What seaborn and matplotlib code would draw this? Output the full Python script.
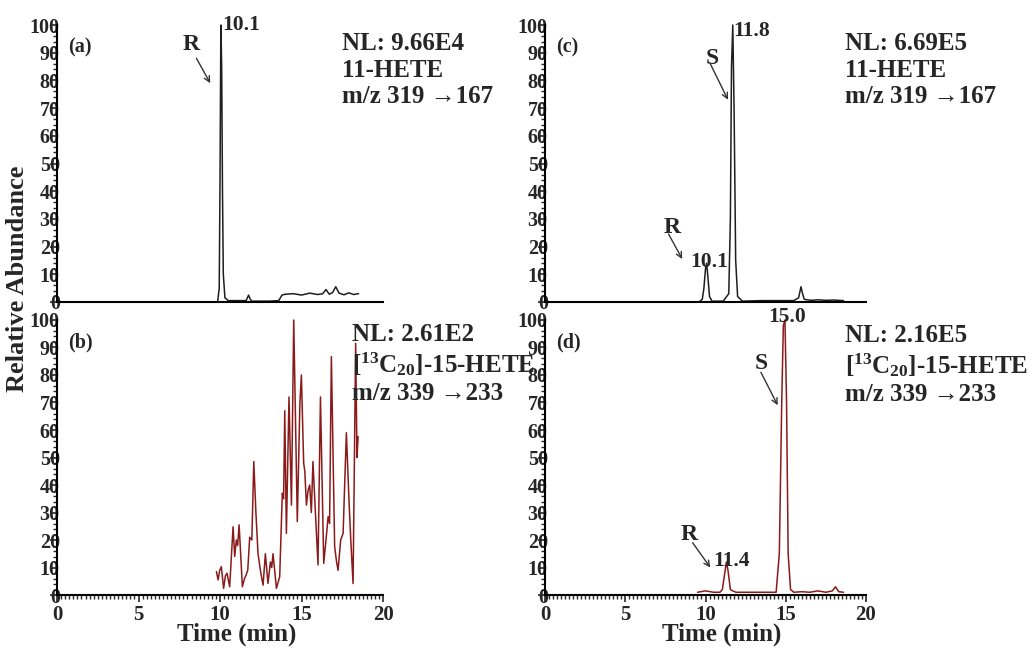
import matplotlib
matplotlib.use("Agg")
import matplotlib.pyplot as plt
from matplotlib.ticker import MultipleLocator
import numpy as np
import pandas as pd
import seaborn as sns

sns.set_style("ticks")
plt.rcParams['font.family'] = ['Liberation Serif', 'DejaVu Serif']
plt.rcParams['font.weight'] = 'bold'
plt.rcParams['mathtext.fontset'] = 'custom'
plt.rcParams['mathtext.rm'] = 'Liberation Serif:bold'
plt.rcParams['mathtext.it'] = 'Liberation Serif:bold'
plt.rcParams['mathtext.default'] = 'rm'

black = '#1e1e1e'
red = '#8b1a1a'

# (a) 11-HETE, sample
t_a = [0, 9.85, 9.95, 10.0, 10.05, 10.1, 10.15, 10.2, 10.3, 10.5, 11.6, 11.75, 11.85, 11.95, 12.1,
       13.0, 13.6, 13.8, 14.0, 14.5, 15.0, 15.5, 16.0, 16.3, 16.5, 16.7, 16.9, 17.1, 17.3, 17.6, 17.9, 18.2, 18.5]
v_a = [0, 0, 5, 45, 100, 85, 40, 10, 1.5, 0.5, 0.5, 2.5, 1, 0.3, 0.3,
       0.3, 0.5, 2.5, 2.8, 3.0, 2.5, 3.2, 2.7, 3.0, 4.5, 2.8, 3.4, 5.5, 3.2, 2.6, 3.3, 2.7, 3.0]

# (b) [13C20]-15-HETE, sample
t_b = [9.78, 9.88, 9.98, 10.08, 10.22, 10.33, 10.43, 10.59, 10.8, 10.9, 11.0, 11.08, 11.17, 11.37, 11.5,
       11.6, 11.7, 11.82, 11.95, 12.07, 12.2, 12.33, 12.5, 12.64, 12.78, 12.94, 13.09, 13.17, 13.25, 13.46,
       13.66, 13.82, 13.9, 13.97, 14.07, 14.23, 14.38, 14.52, 14.74, 14.9, 14.99, 15.13, 15.2, 15.3, 15.4,
       15.5, 15.6, 15.7, 15.85, 16.01, 16.16, 16.36, 16.5, 16.63, 16.72, 16.83, 17.03, 17.15, 17.24, 17.4,
       17.55, 17.65, 17.75, 17.91, 18.02, 18.16, 18.32, 18.4, 18.47]
v_b = [8.5, 5.5, 9, 10.3, 2.4, 7, 7.9, 3, 24.8, 14, 20, 18, 25.5, 3, 6,
       7.3, 9, 21, 20, 48.5, 30, 15, 8, 3.6, 15, 4.2, 12, 10, 15, 2.4,
       6.7, 37, 35, 67, 22.4, 72, 32.7, 100, 26.7, 70, 80, 48, 45, 32.7, 38,
       40, 30, 48.5, 30, 11, 72, 11.5, 20, 28.5, 26, 86.7, 17.6, 12, 9, 20,
       22.4, 41, 59, 34.5, 20, 4.2, 91.5, 50, 57.6]

# (c) 11-HETE, standard
t_c = [0, 9.6, 9.8, 9.9, 10.0, 10.07, 10.15, 10.25, 10.4, 11.1, 11.45, 11.55, 11.62, 11.7, 11.78, 11.88,
       12.0, 12.3, 13.5, 15.5, 15.8, 15.95, 16.05, 16.15, 16.3, 16.6, 17.0, 17.5, 18.0, 18.6]
v_c = [0, 0, 1, 5, 12, 14, 9, 2, 0.3, 0.3, 3, 30, 85, 100, 70, 15,
       2, 0.3, 0.5, 0.5, 1.5, 5.5, 3, 1, 0.8, 0.6, 0.8, 0.6, 0.7, 0.5]

# (d) [13C20]-15-HETE, standard
t_d = [9.5, 10.0, 10.5, 10.9, 11.05, 11.2, 11.3, 11.4, 11.55, 11.7, 11.9, 12.5, 13.5, 14.4, 14.6, 14.75,
       14.85, 14.95, 15.05, 15.15, 15.3, 15.5, 16.0, 16.5, 17.0, 17.5, 17.9, 18.1, 18.3, 18.6]
v_d = [1, 1.5, 1, 1, 2, 8, 12, 9, 2, 1.5, 1, 1, 1, 1, 15, 70,
       98, 100, 70, 15, 2, 1, 1.2, 1, 1.5, 1, 1.5, 3, 1.2, 1]

fig = plt.figure(figsize=(10.35, 6.5), dpi=100)
ax_a = fig.add_axes([0.0551, 0.5354, 0.315, 0.4261])
ax_b = fig.add_axes([0.0551, 0.0846, 0.315, 0.4231])
ax_c = fig.add_axes([0.5266, 0.5354, 0.3101, 0.4261])
ax_d = fig.add_axes([0.5266, 0.0846, 0.3101, 0.4231])

panels = [(ax_a, t_a, v_a, black, '(a)'), (ax_b, t_b, v_b, red, '(b)'),
          (ax_c, t_c, v_c, black, '(c)'), (ax_d, t_d, v_d, red, '(d)')]

for ax, t, v, col, lab in panels:
    df = pd.DataFrame({'t': t, 'v': v})
    sns.lineplot(data=df, x='t', y='v', ax=ax, color=col, linewidth=1.1,
                 estimator=None, sort=False, clip_on=False)
    ax.set_xlim(0, 20)
    ax.set_ylim(0, 100)
    ax.set_xlabel('')
    ax.set_ylabel('')
    sns.despine(ax=ax)
    for s in ['left', 'bottom']:
        ax.spines[s].set_linewidth(1.5)
        ax.spines[s].set_color('black')
    ax.yaxis.set_major_locator(MultipleLocator(10))
    ax.yaxis.set_minor_locator(MultipleLocator(2))
    ax.xaxis.set_major_locator(MultipleLocator(5))
    ax.xaxis.set_minor_locator(MultipleLocator(0.25))
    ax.tick_params(axis='y', which='major', length=5, width=1.2, pad=-7, labelsize=14.5)
    ax.tick_params(axis='y', which='minor', length=3, width=1)
    ax.tick_params(axis='x', which='major', length=5, width=1.2, pad=2, labelsize=15)
    ax.tick_params(axis='x', which='minor', length=3, width=1)
    for lbl in ax.get_yticklabels() + ax.get_xticklabels():
        lbl.set_fontweight('bold')
    ax.set_facecolor('none')
    ax.text(0.035, 0.92, lab, transform=ax.transAxes, fontsize=14.5, fontweight='bold', va='center')

for ax in [ax_a, ax_c]:
    ax.tick_params(axis='x', which='both', bottom=False, labelbottom=False)

for ax in [ax_b, ax_d]:
    ax.set_xlabel('Time (min)', fontsize=18, fontweight='bold')
    ax.xaxis.set_label_coords(0.55, -0.1)

info_kw = dict(fontsize=18, fontweight='bold', va='top', ha='left', linespacing=1.2)
ax_a.text(0.874, 0.975, 'NL: 9.66E4\n11-HETE\nm/z 319 \u2192167', transform=ax_a.transAxes, **info_kw)
ax_b.text(0.905, 0.99, 'NL: 2.61E2\n[$^{13}$C$_{20}$]-15-HETE\nm/z 339 \u2192233', transform=ax_b.transAxes, **info_kw)
ax_c.text(0.935, 0.975, 'NL: 6.69E5\n11-HETE\nm/z 319 \u2192167', transform=ax_c.transAxes, **info_kw)
ax_d.text(0.935, 0.985, 'NL: 2.16E5\n[$^{13}$C$_{20}$]-15-HETE\nm/z 339 \u2192233', transform=ax_d.transAxes, **info_kw)

# peak labels
pk_kw = dict(fontsize=15.5, fontweight='bold')
ax_a.text(10.15, 100, '10.1', ha='left', va='center', **pk_kw)
ax_c.text(11.75, 98, '11.8', ha='left', va='center', **pk_kw)
ax_c.text(10.2, 14.5, '10.1', ha='center', va='center', **pk_kw)
ax_d.text(15.1, 101, '15.0', ha='center', va='center', **pk_kw)
ax_d.text(11.6, 12.5, '11.4', ha='center', va='center', **pk_kw)

# enantiomer labels with arrows
enan_kw = dict(fontsize=17, fontweight='bold', ha='center', va='center')
arr = dict(arrowstyle='->', color='#333333', lw=1.0, shrinkA=0, shrinkB=0)
ax_a.text(8.2, 93, 'R', **enan_kw)
ax_a.annotate('', xy=(9.4, 79), xytext=(8.55, 88), arrowprops=arr)
ax_c.text(10.4, 88, 'S', **enan_kw)
ax_c.annotate('', xy=(11.4, 73), xytext=(10.3, 86), arrowprops=arr)
ax_c.text(7.9, 27, 'R', **enan_kw)
ax_c.annotate('', xy=(8.55, 15.5), xytext=(7.7, 24.5), arrowprops=arr)
ax_d.text(13.5, 84, 'S', **enan_kw)
ax_d.annotate('', xy=(14.5, 69), xytext=(13.45, 81), arrowprops=arr)
ax_d.text(9.0, 22, 'R', **enan_kw)
ax_d.annotate('', xy=(10.3, 10), xytext=(9.2, 19), arrowprops=arr)

fig.text(0.017, 0.571, 'Relative Abundance', rotation=90, ha='center', va='center',
         fontsize=19, fontweight='bold')

fig.savefig('out.png', dpi=100)
